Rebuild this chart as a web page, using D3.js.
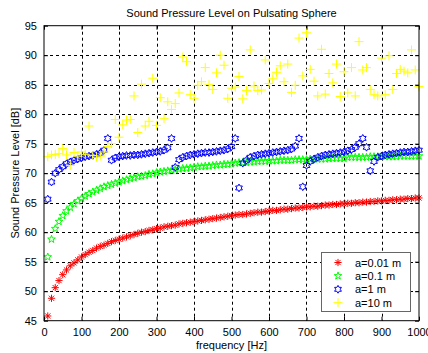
<!DOCTYPE html>
<html><head><meta charset="utf-8">
<script src="https://cdn.jsdelivr.net/npm/d3@7"></script>
<style>
body{margin:0;background:#fff}
svg{display:block}
text{font-family:"Liberation Sans",Arial,sans-serif;font-size:11px;fill:#000}
</style>
</head><body><svg id="c" width="428" height="353"></svg>
<script>
const frequency = [10,20,30,40,50,60,70,80,90,100,110,120,130,140,150,160,170,180,190,200,
210,220,230,240,250,260,270,280,290,300,310,320,330,340,350,360,370,380,390,400,
410,420,430,440,450,460,470,480,490,500,510,520,530,540,550,560,570,580,590,600,
610,620,630,640,650,660,670,680,690,700,710,720,730,740,750,760,770,780,790,800,
810,820,830,840,850,860,870,880,890,900,910,920,930,940,950,960,970,980,990,1000];

const splA001 = [45.8,48.8,50.6,51.8,52.8,53.6,54.3,54.8,55.3,55.8,56.2,56.6,56.9,57.3,57.6,57.8,58.1,58.4,58.6,58.8,
59.0,59.2,59.4,59.6,59.8,60.0,60.1,60.3,60.4,60.6,60.7,60.9,61.0,61.1,61.2,61.4,61.5,61.6,61.7,61.8,
61.9,62.0,62.1,62.2,62.3,62.4,62.5,62.6,62.7,62.8,62.9,63.0,63.0,63.1,63.2,63.3,63.4,63.4,63.5,63.6,
63.7,63.7,63.8,63.9,63.9,64.0,64.1,64.1,64.2,64.3,64.3,64.4,64.4,64.5,64.6,64.6,64.7,64.7,64.8,64.8,
64.9,64.9,65.0,65.0,65.1,65.1,65.2,65.2,65.3,65.3,65.4,65.4,65.5,65.5,65.6,65.6,65.7,65.7,65.8,65.8];

const splA01 = [55.8,58.8,60.6,61.8,62.8,63.6,64.2,64.8,65.3,65.7,66.1,66.5,66.8,67.1,67.4,67.7,67.9,68.1,68.3,68.5,
68.7,68.9,69.1,69.2,69.4,69.5,69.6,69.8,69.9,70.1,70.2,70.3,70.4,70.5,70.6,70.7,70.8,70.8,70.9,71.0,
71.1,71.1,71.2,71.2,71.3,71.4,71.4,71.5,71.5,71.6,71.7,71.8,71.8,71.8,71.9,71.9,72.0,72.0,72.0,72.1,
72.1,72.1,72.2,72.2,72.2,72.2,72.3,72.3,72.3,72.3,72.4,72.4,72.4,72.4,72.4,72.5,72.5,72.5,72.5,72.5,
72.7,72.7,72.7,72.7,72.7,72.7,72.8,72.8,72.8,72.8,72.8,72.8,72.8,72.8,72.9,72.9,72.9,72.9,72.9,72.9];

const splA1 = [65.6,68.5,70.0,70.6,71.1,71.6,71.9,72.2,72.4,72.6,72.8,72.9,73.0,73.2,73.4,73.9,75.9,72.2,72.6,72.8,
72.9,73.0,73.0,73.1,73.1,73.2,73.3,73.4,73.5,73.6,73.7,73.9,74.3,75.9,71.0,72.3,72.7,72.9,73.1,73.2,
73.3,73.4,73.5,73.5,73.6,73.7,73.8,73.9,74.1,74.5,75.9,67.5,71.7,72.2,72.7,72.9,73.1,73.2,73.3,73.4,
73.5,73.6,73.7,73.8,73.9,74.1,74.6,75.9,67.7,71.3,72.0,72.4,72.7,72.9,73.1,73.2,73.3,73.4,73.5,73.6,
73.8,74.0,74.4,75.0,75.9,74.4,70.4,72.0,72.7,72.9,73.1,73.2,73.3,73.4,73.5,73.6,73.6,73.7,73.8,73.9];

const splA10 = [72.8,73.1,73.2,73.3,74.2,73.1,71.3,73.5,72.9,73.6,73.2,78.0,73.0,72.7,72.9,73.6,74.5,75.0,79.1,76.1,
78.2,79.0,79.1,83.1,76.9,85.1,78.0,78.8,86.1,78.1,82.8,79.3,82.1,80.8,81.8,83.6,89.7,88.9,83.3,82.7,
84.9,85.5,87.9,85.0,84.2,87.0,90.0,88.3,82.7,84.4,84.6,86.4,82.6,84.0,90.9,84.8,84.0,84.1,89.2,85.2,
86.0,87.1,88.2,85.5,88.5,83.7,84.9,92.9,86.5,93.8,87.6,85.6,83.1,91.0,83.4,86.9,85.3,88.5,83.0,87.2,
83.6,87.9,83.1,92.3,87.5,87.9,84.2,83.3,83.1,89.5,83.3,89.9,84.2,86.9,87.6,87.3,87.0,90.9,87.5,84.7];

const seriesNames = ["a=0.01 m","a=0.1 m","a=1 m","a=10 m"];
const seriesColors = ["#ff0000","#00ff00","#0000ff","#ffff00"];
const seriesMarkers = ["asterisk","pentagram","hexagram","plus"];
const xTicks = [0,100,200,300,400,500,600,700,800,900,1000];
const yTicks = [45,50,55,60,65,70,75,80,85,90,95];
const titleText = "Sound Pressure Level on Pulsating Sphere";
const xLabel = "frequency [Hz]";
const yLabel = "Sound Pressure Level [dB]";

const svg = d3.select("#c");
const L = 44, R = 419, T = 25.7, B = 320.7;
const x = d3.scaleLinear().domain([0,1000]).range([L,R]);
const y = d3.scaleLinear().domain([45,95]).range([B,T]);

function starPath(n, ro, ri){
  const pts = [];
  for(let i=0;i<2*n;i++){
    const a = -Math.PI/2 + i*Math.PI/n;
    const r = i%2===0 ? ro : ri;
    pts.push([r*Math.cos(a), r*Math.sin(a)]);
  }
  return "M" + pts.map(p=>p[0].toFixed(2)+","+p[1].toFixed(2)).join("L") + "Z";
}
const markerPaths = {
  plus: "M-4.5,0H4.5M0,-4.5V4.5",
  asterisk: "M-3.6,0H3.6M0,-3.6V3.6M-2.6,-2.6L2.6,2.6M-2.6,2.6L2.6,-2.6",
  pentagram: starPath(5, 4.0, 1.6),
  hexagram: starPath(6, 3.9, 2.25)
};

// grid
const gGrid = svg.append("g");
gGrid.selectAll("line.vx").data(xTicks.slice(1,-1)).join("line")
  .attr("x1",d=>Math.round(x(d))+0.5).attr("x2",d=>Math.round(x(d))+0.5)
  .attr("y1",T).attr("y2",B)
  .attr("stroke","#000").attr("stroke-width",1).attr("stroke-dasharray","3,3");
gGrid.selectAll("line.hy").data(yTicks.slice(1,-1)).join("line")
  .attr("y1",d=>Math.round(y(d))+0.5).attr("y2",d=>Math.round(y(d))+0.5)
  .attr("x1",L).attr("x2",R)
  .attr("stroke","#000").attr("stroke-width",1).attr("stroke-dasharray","3,3");

// data
const allSeries = [splA001, splA01, splA1, splA10];
allSeries.forEach((vals,si)=>{
  svg.append("g").selectAll("path").data(vals).join("path")
    .attr("d", markerPaths[seriesMarkers[si]])
    .attr("transform",(d,i)=>`translate(${x(frequency[i])},${y(d)})`)
    .attr("fill","none").attr("stroke",seriesColors[si]).attr("stroke-width",1);
});

// axes
const xAxis = d3.axisBottom(x).tickValues(xTicks).tickSize(-4).tickPadding(8).tickFormat(d3.format("d"));
const yAxis = d3.axisLeft(y).tickValues(yTicks).tickSize(-4).tickPadding(7).tickFormat(d3.format("d"));
const gx = svg.append("g").attr("transform",`translate(0,${B})`).call(xAxis);
const gy = svg.append("g").attr("transform",`translate(${L},0)`).call(yAxis);
const gxt = svg.append("g").attr("transform",`translate(0,${T})`).call(d3.axisTop(x).tickValues(xTicks).tickSize(-4).tickFormat(""));
const gyr = svg.append("g").attr("transform",`translate(${R},0)`).call(d3.axisRight(y).tickValues(yTicks).tickSize(-4).tickFormat(""));
[gx,gy,gxt,gyr].forEach(g=>{
  g.select(".domain").remove();
  g.selectAll("line").attr("stroke","#000");
  g.selectAll("text").attr("fill","#000").style("font-size","11px").style("font-family",'"Liberation Sans",Arial,sans-serif');
});
svg.append("rect").attr("x",L).attr("y",T).attr("width",R-L).attr("height",B-T)
  .attr("fill","none").attr("stroke","#000").attr("stroke-width",1);

// labels
svg.append("text").attr("x",(L+R)/2).attr("y",17).attr("text-anchor","middle").text(titleText);
svg.append("text").attr("x",(L+R)/2).attr("y",349).attr("text-anchor","middle").text(xLabel);
svg.append("text").attr("transform",`translate(19,${(T+B)/2}) rotate(-90)`).attr("text-anchor","middle").text(yLabel);

// legend
const lg = svg.append("g");
lg.append("rect").attr("x",321.5).attr("y",252.5).attr("width",89).attr("height",59)
  .attr("fill","#fff").attr("stroke","#666").attr("stroke-width",1);
seriesNames.forEach((n,i)=>{
  const cy = 262.5 + i*13.4;
  lg.append("path").attr("d",markerPaths[seriesMarkers[i]]).attr("transform",`translate(338,${cy})`)
    .attr("fill","none").attr("stroke",seriesColors[i]).attr("stroke-width",1);
  lg.append("text").attr("x",355).attr("y",cy+4).text(n);
});
</script>
</body></html>
